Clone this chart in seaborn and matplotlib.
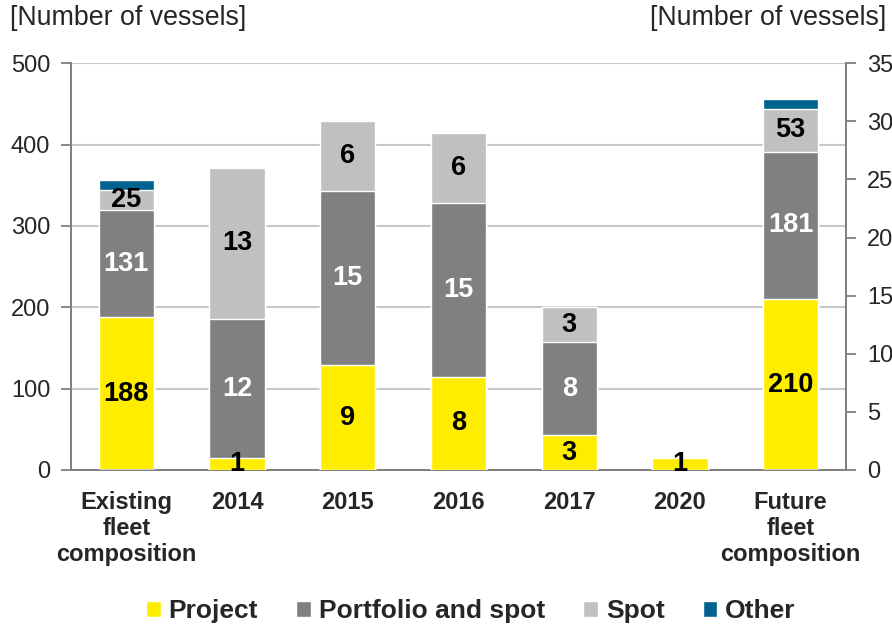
import pandas as pd
import matplotlib.pyplot as plt
import seaborn as sns
from matplotlib.patches import Patch

# categories on the x axis
categories = ['Existing\nfleet\ncomposition', '2014', '2015', '2016', '2017', '2020',
              'Future\nfleet\ncomposition']
fleet_idx = [0, 6]          # plotted against the left axis
year_idx = [1, 2, 3, 4, 5]  # plotted against the right axis

series = ['Project', 'Portfolio and spot', 'Spot', 'Other']

# left axis values (fleet composition)
fleet_project = [188, 210]
fleet_portfolio = [131, 181]
fleet_spot = [25, 53]
fleet_other = [12, 12]

# right axis values (per year)
year_project = [1, 9, 8, 3, 1]
year_portfolio = [12, 15, 15, 8, 0]
year_spot = [13, 6, 6, 3, 0]
year_other = [0, 0, 0, 0, 0]

colors = ['#FFED00', '#808080', '#C0C0C0', '#00628F']
text_colors = ['black', 'white', 'black', None]
font = 'Liberation Sans'

sns.set_style('white')
plt.rcParams['font.family'] = [font, 'DejaVu Sans']

fig = plt.figure(figsize=(8.92, 6.25), dpi=100)
ax = fig.add_axes([0.0796, 0.248, 0.8688, 0.651])
ax2 = ax.twinx()


def draw_stack(axis, idx, layers):
    # full-length value lists with zeros for categories of the other axis
    full = []
    for vals in layers:
        row = [0] * len(categories)
        for i, v in zip(idx, vals):
            row[i] = v
        full.append(row)
    cum = []
    run = [0] * len(categories)
    for row in full:
        run = [a + b for a, b in zip(run, row)]
        cum.append(run)
    # draw tallest first so that lower segments cover it
    for k in range(len(layers) - 1, -1, -1):
        df = pd.DataFrame({'cat': categories, 'val': cum[k]})
        sns.barplot(data=df, x='cat', y='val', order=categories, color=colors[k],
                    width=0.5, saturation=1, ax=axis, zorder=3)
    # segment labels
    for k, row in enumerate(full):
        if text_colors[k] is None:
            continue
        for i in idx:
            if row[i] > 0:
                base = cum[k][i] - row[i]
                axis.text(i, base + row[i] / 2, str(row[i]), ha='center', va='center',
                          color=text_colors[k], fontsize=19.5, fontweight='bold', zorder=5)


draw_stack(ax, fleet_idx, [fleet_project, fleet_portfolio, fleet_spot, fleet_other])
draw_stack(ax2, year_idx, [year_project, year_portfolio, year_spot, year_other])

ax.set_ylim(0, 500)
ax2.set_ylim(0, 35)
ax.set_xlim(-0.5, 6.5)
ax.set_yticks(range(0, 501, 100))
ax2.set_yticks(range(0, 36, 5))
ax.yaxis.grid(True, color='#C8C8C8', linewidth=1.5, zorder=0)
ax.set_axisbelow(True)
ax2.grid(False)
ax.set_xlabel('')
ax.set_ylabel('')
ax2.set_xlabel('')
ax2.set_ylabel('')

ax.set_xticks(range(len(categories)))
ax.set_xticklabels(categories, fontsize=17, fontweight='bold', linespacing=1.18)
ax.set_xticks([i + 0.5 for i in range(-1, len(categories))], minor=True)
ax.tick_params(axis='x', which='major', length=0, pad=15)
ax.tick_params(axis='x', which='minor', length=7, color='#808080', width=1.3)
ax.tick_params(axis='y', length=7, color='#808080', width=1.3, labelsize=17, direction='out',
               left=True, pad=8)
ax2.tick_params(axis='y', length=7, color='#808080', width=1.3, labelsize=17, direction='out',
                right=True, pad=8)

for a in (ax, ax2):
    a.spines['top'].set_visible(False)
    for s in ('left', 'right', 'bottom'):
        a.spines[s].set_color('#808080')
        a.spines[s].set_linewidth(1.3)

fig.text(0.011, 0.971, '[Number of vessels]', fontsize=19.3, ha='left', va='center')
fig.text(0.994, 0.971, '[Number of vessels]', fontsize=19.3, ha='right', va='center')

handles = [Patch(facecolor=c, label=s) for c, s in zip(colors, series)]
fig.legend(handles=handles, loc='center', bbox_to_anchor=(0.528, 0.022), ncol=4, frameon=False,
           prop={'family': font, 'weight': 'bold', 'size': 19}, handlelength=0.55, handleheight=0.55,
           handletextpad=0.3, columnspacing=1.45)

fig.savefig('out.png', dpi=100)
